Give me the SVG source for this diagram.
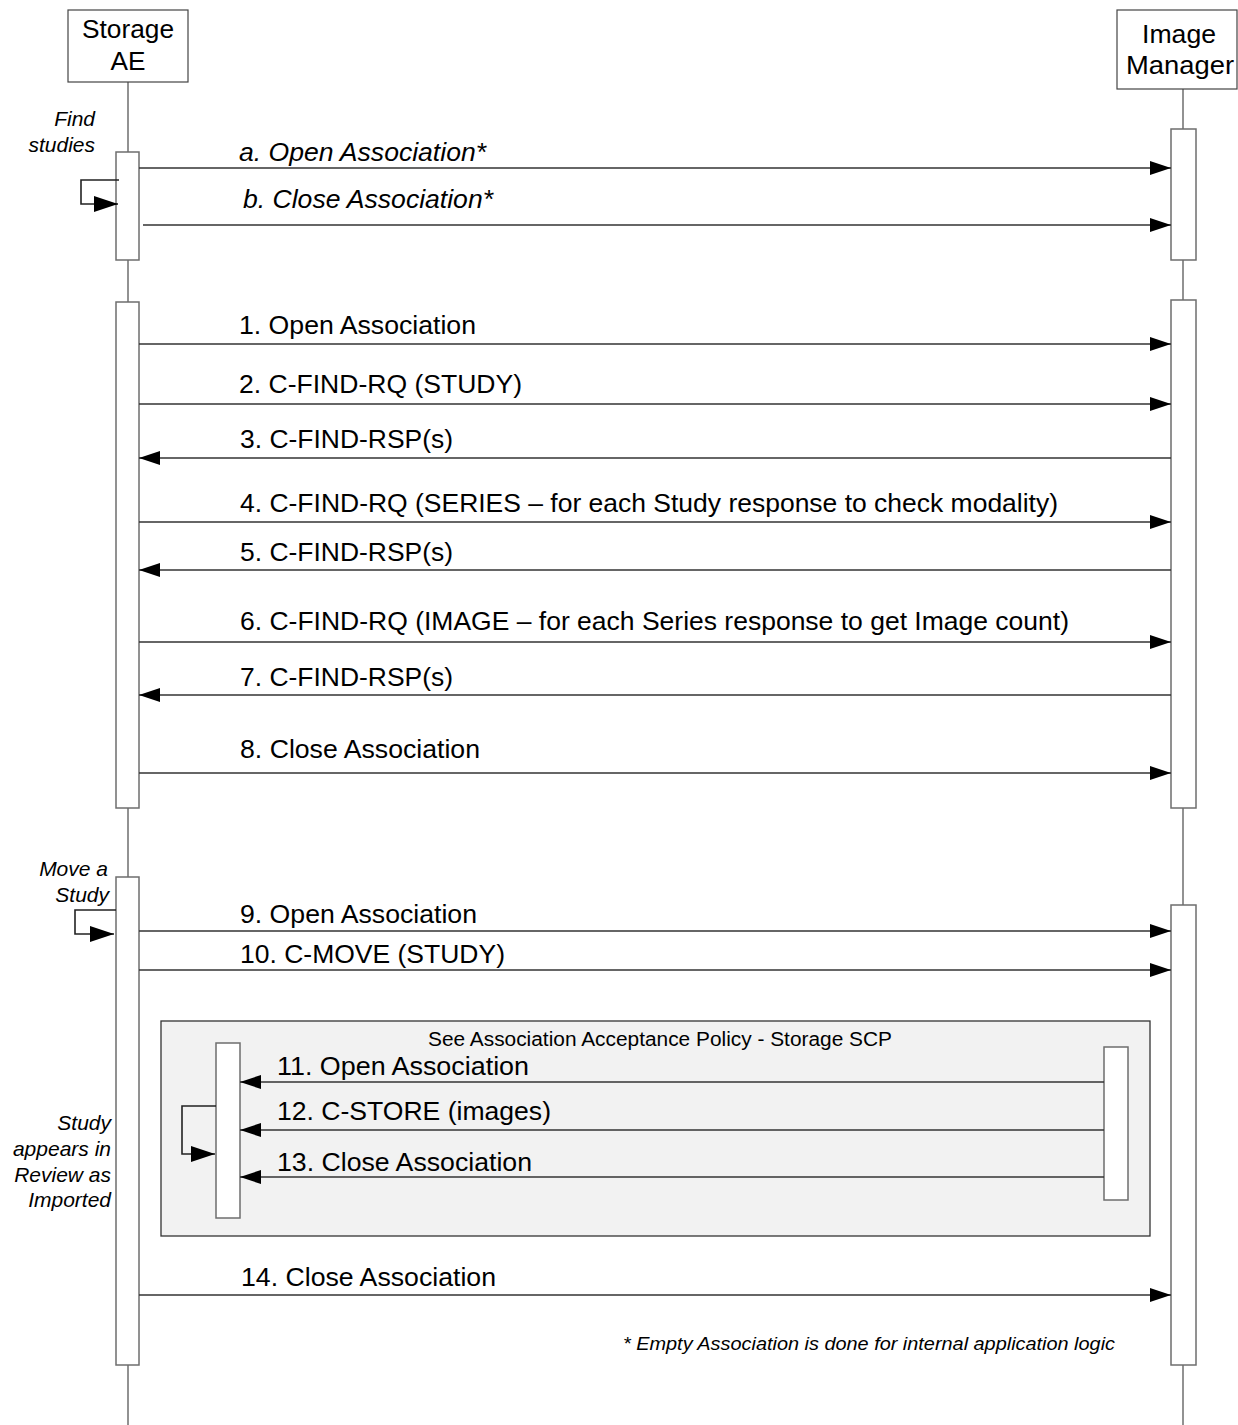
<svg xmlns="http://www.w3.org/2000/svg" width="1238" height="1425" viewBox="0 0 1238 1425">
<style>
text{font-family:"Liberation Sans",Arial,sans-serif;fill:#000}
.lbl{font-size:25px}
.head{font-size:25px;text-anchor:middle}
.it{font-style:italic}
.note{font-size:21px;font-style:italic;text-anchor:end}
.title{font-size:20px;text-anchor:middle}
.foot{font-size:18px;font-style:italic}
.life{stroke:#6e6e6e;stroke-width:1.5;fill:none}
.bar{fill:#fff;stroke:#6e6e6e;stroke-width:1.5}
.box{fill:#fff;stroke:#444;stroke-width:1.2}
.msg{stroke:#333;stroke-width:1.4;fill:none;marker-end:url(#arr)}
.self{stroke:#222;stroke-width:1.6;fill:none;marker-end:url(#arrs)}
</style>
<defs>
<marker id="arr" markerUnits="userSpaceOnUse" markerWidth="22" markerHeight="14" refX="21" refY="7" orient="auto">
<path d="M0,0 L21,7 L0,14 z" fill="#000"/>
</marker>
<marker id="arrs" markerUnits="userSpaceOnUse" markerWidth="25" markerHeight="16" refX="24" refY="8" orient="auto">
<path d="M0,0 L24,8 L0,16 z" fill="#000"/>
</marker>
</defs>
<rect width="1238" height="1425" fill="#fff"/>

<g id="lifelines">
<line class="life" x1="128" y1="82" x2="128" y2="1425"/>
<line class="life" x1="1183" y1="89" x2="1183" y2="1425"/>
</g>

<g id="storage-ae">
<rect class="box" x="68" y="10" width="120" height="72"/>
<text class="head" x="128" y="38" textLength="92" lengthAdjust="spacingAndGlyphs">Storage</text>
<text class="head" x="128" y="70" textLength="35" lengthAdjust="spacingAndGlyphs">AE</text>
</g>

<g id="image-manager">
<rect class="box" x="1117" y="10" width="120" height="79"/>
<text class="head" x="1179" y="43" textLength="74" lengthAdjust="spacingAndGlyphs">Image</text>
<text class="head" x="1180" y="74" textLength="108" lengthAdjust="spacingAndGlyphs">Manager</text>
</g>

<g id="association-policy-frame">
<rect x="161" y="1021" width="989" height="215" fill="#f2f2f2" stroke="#333" stroke-width="1.3"/>
<text class="title" x="660" y="1046" textLength="464" lengthAdjust="spacingAndGlyphs">See Association Acceptance Policy - Storage SCP</text>
</g>

<g id="activations">
<rect id="act-s1" class="bar" x="116" y="152" width="23" height="108"/>
<rect id="act-s2" class="bar" x="116" y="302" width="23" height="506"/>
<rect id="act-s3" class="bar" x="116" y="877" width="23" height="488"/>
<rect id="act-m1" class="bar" x="1171" y="129" width="25" height="131"/>
<rect id="act-m2" class="bar" x="1171" y="300" width="25" height="508"/>
<rect id="act-m3" class="bar" x="1171" y="905" width="25" height="460"/>
<rect id="act-in-l" class="bar" x="216" y="1043" width="24" height="175"/>
<rect id="act-in-r" class="bar" x="1104" y="1047" width="24" height="153"/>
</g>

<g id="connectors">
<line class="msg" x1="139" y1="168" x2="1171" y2="168"/>
<line class="msg" x1="143" y1="225" x2="1171" y2="225"/>
<line class="msg" x1="139" y1="344" x2="1171" y2="344"/>
<line class="msg" x1="139" y1="404" x2="1171" y2="404"/>
<line class="msg" x1="1171" y1="458" x2="139" y2="458"/>
<line class="msg" x1="139" y1="522" x2="1171" y2="522"/>
<line class="msg" x1="1171" y1="570" x2="139" y2="570"/>
<line class="msg" x1="139" y1="642" x2="1171" y2="642"/>
<line class="msg" x1="1171" y1="695" x2="139" y2="695"/>
<line class="msg" x1="139" y1="773" x2="1171" y2="773"/>
<line class="msg" x1="139" y1="931" x2="1171" y2="931"/>
<line class="msg" x1="139" y1="970" x2="1171" y2="970"/>
<line class="msg" x1="1104" y1="1082" x2="240" y2="1082"/>
<line class="msg" x1="1104" y1="1130" x2="240" y2="1130"/>
<line class="msg" x1="1104" y1="1177" x2="240" y2="1177"/>
<line class="msg" x1="139" y1="1295" x2="1171" y2="1295"/>
<path class="self" d="M119,180 H81 V204 H118"/>
<path class="self" d="M116,910 H75 V934 H114"/>
<path class="self" d="M216,1106 H182 V1154 H215"/>
</g>

<g id="labels">
<text class="lbl it" x="239" y="161" textLength="247" lengthAdjust="spacingAndGlyphs">a. Open Association*</text>
<text class="lbl it" x="243" y="208" textLength="250" lengthAdjust="spacingAndGlyphs">b. Close Association*</text>
<text class="lbl" x="239" y="334" textLength="237" lengthAdjust="spacingAndGlyphs">1. Open Association</text>
<text class="lbl" x="239" y="393" textLength="283" lengthAdjust="spacingAndGlyphs">2. C-FIND-RQ (STUDY)</text>
<text class="lbl" x="240" y="448" textLength="213" lengthAdjust="spacingAndGlyphs">3. C-FIND-RSP(s)</text>
<text class="lbl" x="240" y="512" textLength="818" lengthAdjust="spacingAndGlyphs">4. C-FIND-RQ (SERIES – for each Study response to check modality)</text>
<text class="lbl" x="240" y="561" textLength="213" lengthAdjust="spacingAndGlyphs">5. C-FIND-RSP(s)</text>
<text class="lbl" x="240" y="630" textLength="829" lengthAdjust="spacingAndGlyphs">6. C-FIND-RQ (IMAGE – for each Series response to get Image count)</text>
<text class="lbl" x="240" y="686" textLength="213" lengthAdjust="spacingAndGlyphs">7. C-FIND-RSP(s)</text>
<text class="lbl" x="240" y="758" textLength="240" lengthAdjust="spacingAndGlyphs">8. Close Association</text>
<text class="lbl" x="240" y="923" textLength="237" lengthAdjust="spacingAndGlyphs">9. Open Association</text>
<text class="lbl" x="240" y="963" textLength="265" lengthAdjust="spacingAndGlyphs">10. C-MOVE (STUDY)</text>
<text class="lbl" x="277" y="1075" textLength="252" lengthAdjust="spacingAndGlyphs">11. Open Association</text>
<text class="lbl" x="277" y="1120" textLength="274" lengthAdjust="spacingAndGlyphs">12. C-STORE (images)</text>
<text class="lbl" x="277" y="1171" textLength="255" lengthAdjust="spacingAndGlyphs">13. Close Association</text>
<text class="lbl" x="241" y="1286" textLength="255" lengthAdjust="spacingAndGlyphs">14. Close Association</text>
</g>

<g id="notes">
<text class="note" x="95" y="126">Find</text>
<text class="note" x="95" y="152">studies</text>
<text class="note" x="108" y="876">Move a</text>
<text class="note" x="109" y="902">Study</text>
<text class="note" x="111" y="1130">Study</text>
<text class="note" x="111" y="1156">appears in</text>
<text class="note" x="111" y="1182">Review as</text>
<text class="note" x="111" y="1207">Imported</text>
<text class="foot" x="623" y="1350" textLength="492" lengthAdjust="spacingAndGlyphs">* Empty Association is done for internal application logic</text>
</g>
</svg>
